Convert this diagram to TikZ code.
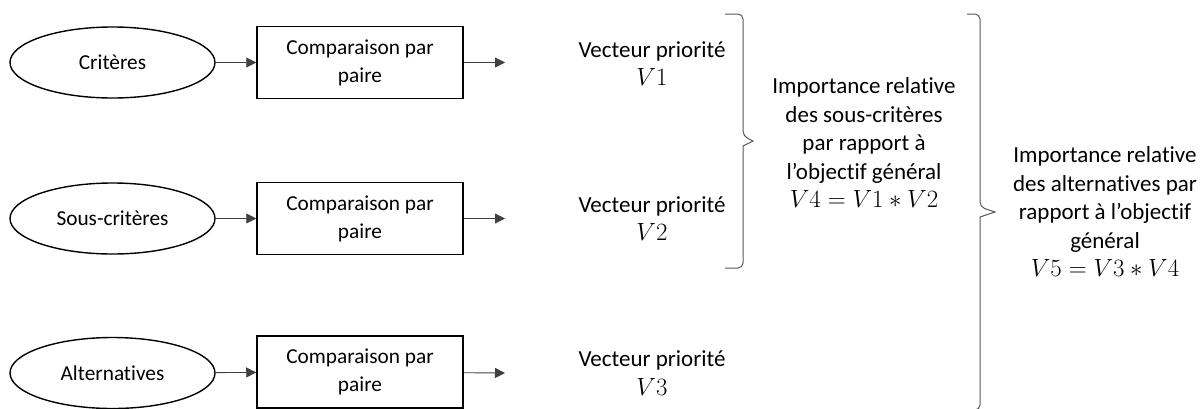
\documentclass[tikz,border=0pt]{standalone}
\usepackage{fontspec}
\setmainfont{Carlito}[Ligatures=NoCommon]
\usetikzlibrary{arrows.meta, shapes.geometric}

\begin{document}
\begin{tikzpicture}[x=1pt, y=-1pt, >={Triangle[length=10pt,width=10pt]},
  every node/.style={font=\fontsize{21.3}{28}\selectfont},
  crit/.style={ellipse, draw, line width=1.4pt, minimum width=205pt, minimum height=71pt, inner sep=0pt},
  comp/.style={rectangle, draw, line width=1.5pt, minimum width=206pt, minimum height=72pt, align=center},
  vect/.style={align=center, font=\fontsize{23}{28.5}\selectfont},
  link/.style={->, line width=0.9pt, draw=black!75},
  brace/.style={line width=1pt, draw=black!65}]
  \useasboundingbox (0,0) rectangle (1200,408);

  % rangee 1
  \node[crit] (crit1) at (112.5,62.5) {Critères};
  \node[comp] (comp1) at (360,62.5) {Comparaison par\\paire};
  \coordinate (fin1) at (505,62.5);
  \node[vect] (vec1) at (652,63.5) {Vecteur priorité\\$V1$};
  \draw[link] (crit1) -- (comp1);
  \draw[link] (comp1) -- (fin1);

  % rangee 2
  \node[crit] (crit2) at (112.5,218.5) {Sous-critères};
  \node[comp] (comp2) at (360,218.5) {Comparaison par\\paire};
  \coordinate (fin2) at (505,218.5);
  \node[vect] (vec2) at (652,218.5) {Vecteur priorité\\$V2$};
  \draw[link] (crit2) -- (comp2);
  \draw[link] (comp2) -- (fin2);

  % rangee 3
  \node[crit] (crit3) at (112.5,373) {Alternatives};
  \node[comp] (comp3) at (360,372) {Comparaison par\\paire};
  \coordinate (fin3) at (505,373);
  \node[vect] (vec3) at (652,373) {Vecteur priorité\\$V3$};
  \draw[link] (crit3) -- (comp3);
  \draw[link] (comp3) -- (fin3);

  % accolades
  \draw[brace, rounded corners=5pt] (725,14) -- (743,14) -- (743,136)
    [sharp corners] -- (753,141) -- (743,146) [rounded corners=5pt] -- (743,268) -- (725,268);
  \draw[brace, rounded corners=5pt] (967,14) -- (980,14) -- (980,207)
    [sharp corners] -- (995,212) -- (980,217) [rounded corners=5pt] -- (980,410) -- (967,410);

  \node[vect] (imp1) at (864,143) {Importance relative\\des sous-critères\\par rapport à\\l’objectif général\\$V4=V1\ast V2$};
  \node[vect] (imp2) at (1105,212) {Importance relative\\des alternatives par\\rapport à l’objectif\\général\\$V5=V3\ast V4$};
\end{tikzpicture}
\end{document}
